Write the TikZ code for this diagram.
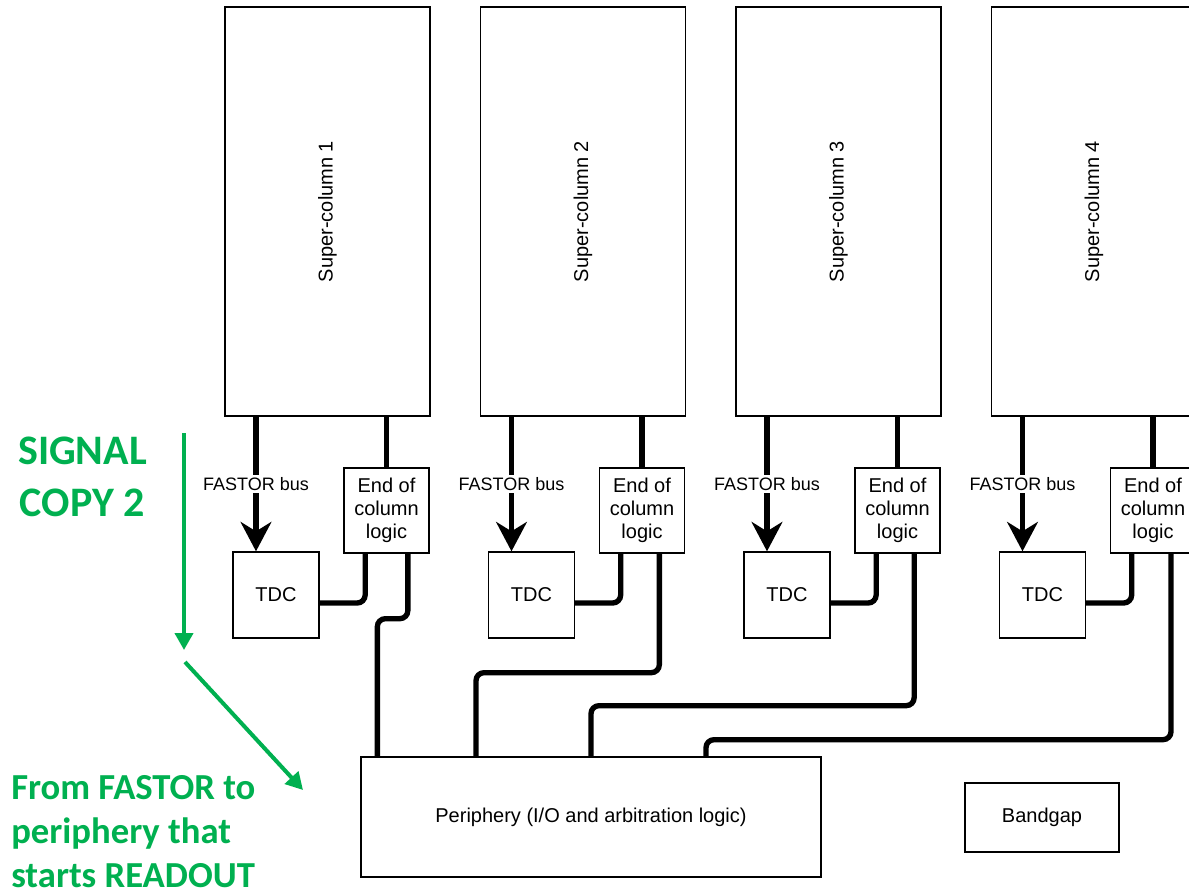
\documentclass[tikz,border=0pt]{standalone}
\usepackage{fontspec}
\setmainfont{Liberation Sans}
\newfontfamily\calibri{Carlito}
\usepackage{tikz}
\usetikzlibrary{shapes,arrows.meta}
\definecolor{notegreen}{HTML}{00B050}

\begin{document}
\begin{tikzpicture}[x=0.75pt,y=-0.75pt,
  block/.style={draw,line width=1pt,inner sep=0pt,align=center,font=\fontsize{15}{17.25}\selectfont},
  bus/.style={line width=4pt,-{Stealth[length=22pt,width=23pt,inset=7pt]}},
  wire/.style={line width=4pt,rounded corners=6pt},
  buslabel/.style={fill=white,inner sep=2pt,font=\fontsize{13.5}{16}\selectfont},
  note/.style={text=notegreen,inner sep=0pt},
  notearrow/.style={draw=notegreen,line width=3pt,-{Triangle[length=12.75pt,width=13.5pt]}}]
\clip (0,0) rectangle (1189,893);

% super-columns
\node[name=Super-Column-1,block,minimum width=153.75pt,minimum height=306.75pt] at (327.5,211.5) {\rotatebox{90}{Super-column 1}};
\node[name=Super-Column-2,block,minimum width=153.75pt,minimum height=306.75pt] at (583,211.5) {\rotatebox{90}{Super-column 2}};
\node[name=Super-Column-3,block,minimum width=153.75pt,minimum height=306.75pt] at (838.5,211.5) {\rotatebox{90}{Super-column 3}};
\node[name=Super-Column-4,block,minimum width=153.75pt,minimum height=306.75pt] at (1094,211.5) {\rotatebox{90}{Super-column 4}};

% TDCs
\node[name=TDC-1,block,minimum size=64.5pt] at (276,595) {TDC};
\node[name=TDC-2,block,minimum size=64.5pt] at (531.5,595) {TDC};
\node[name=TDC-3,block,minimum size=64.5pt] at (787,595) {TDC};
\node[name=TDC-4,block,minimum size=64.5pt] at (1042.5,595) {TDC};

% end of column logic
\node[name=End-Of-Column-1,block,minimum size=63.75pt] at (386.5,510.5) {End of\\column\\logic};
\node[name=End-Of-Column-2,block,minimum size=63.75pt] at (642,510.5) {End of\\column\\logic};
\node[name=End-Of-Column-3,block,minimum size=63.75pt] at (897.5,510.5) {End of\\column\\logic};
\node[name=End-Of-Column-4,block,minimum size=63.75pt] at (1153,510.5) {End of\\column\\logic};

\node[name=Periphery,block,minimum width=345pt,minimum height=90pt] at (591,817) {Periphery (I/O and arbitration logic)};
\node[name=Bandgap,block,minimum width=115.5pt,minimum height=51.75pt] at (1042,817.5) {Bandgap};

% FASTOR buses into the TDCs
\coordinate (Bus-1) at ([xshift=-15pt]TDC-1.north);
\coordinate (Bus-2) at ([xshift=-15pt]TDC-2.north);
\coordinate (Bus-3) at ([xshift=-15pt]TDC-3.north);
\coordinate (Bus-4) at ([xshift=-15pt]TDC-4.north);
\path [draw,bus] (Super-Column-1.south -| Bus-1) -- node[name=Bus-Label-1,midway,buslabel] {FASTOR bus} (Bus-1);
\path [draw,bus] (Super-Column-2.south -| Bus-2) -- node[name=Bus-Label-2,midway,buslabel] {FASTOR bus} (Bus-2);
\path [draw,bus] (Super-Column-3.south -| Bus-3) -- node[name=Bus-Label-3,midway,buslabel] {FASTOR bus} (Bus-3);
\path [draw,bus] (Super-Column-4.south -| Bus-4) -- node[name=Bus-Label-4,midway,buslabel] {FASTOR bus} (Bus-4);

% super-column to end of column logic
\draw[wire] (Super-Column-1.south -| End-Of-Column-1) -- (End-Of-Column-1.north);
\draw[wire] (Super-Column-2.south -| End-Of-Column-2) -- (End-Of-Column-2.north);
\draw[wire] (Super-Column-3.south -| End-Of-Column-3) -- (End-Of-Column-3.north);
\draw[wire] (Super-Column-4.south -| End-Of-Column-4) -- (End-Of-Column-4.north);

% TDC to end of column logic
\draw[wire] ([yshift=-6pt]TDC-1.east) -| ([xshift=-16pt]End-Of-Column-1.south);
\draw[wire] ([yshift=-6pt]TDC-2.east) -| ([xshift=-16pt]End-Of-Column-2.south);
\draw[wire] ([yshift=-6pt]TDC-3.east) -| ([xshift=-16pt]End-Of-Column-3.south);
\draw[wire] ([yshift=-6pt]TDC-4.east) -| ([xshift=-16pt]End-Of-Column-4.south);

% end of column logic down to the periphery
\coordinate (Entry-1) at ([xshift=12.75pt]Periphery.north west);
\coordinate (Entry-2) at ([xshift=86.75pt]Periphery.north west);
\coordinate (Entry-3) at ([xshift=173pt]Periphery.north west);
\coordinate (Entry-4) at ([xshift=259.25pt]Periphery.north west);
\draw[wire] ([xshift=16pt]End-Of-Column-1.south) -- ++(0,65) -| (Entry-1);
\draw[wire] ([xshift=13pt]End-Of-Column-2.south) -- ++(0,119) -| (Entry-2);
\draw[wire] ([xshift=12.5pt]End-Of-Column-3.south) -- ++(0,152) -| (Entry-3);
\draw[wire] ([xshift=13.5pt]End-Of-Column-4.south) -- ++(0,186) -| (Entry-4);

% green notes
\node[name=Signal-Copy,note,align=center,anchor=north,font=\calibri\bfseries\fontsize{31.5}{39}\selectfont] at (82.5,437) {SIGNAL\\COPY 2};
\node[name=Readout-Note,note,align=left,anchor=north west,font=\calibri\bfseries\fontsize{27.5}{33}\selectfont] at (11,775) {From FASTOR to\\periphery that\\starts READOUT};
\coordinate (Copy-Top) at (184,433);
\coordinate (Copy-Bottom) at (184,650);
\coordinate (Readout-Start) at (185,662);
\coordinate (Readout-End) at (303,790);
\draw[notearrow] (Copy-Top) -- (Copy-Bottom);
\draw[notearrow] (Readout-Start) -- (Readout-End);
\end{tikzpicture}
\end{document}
